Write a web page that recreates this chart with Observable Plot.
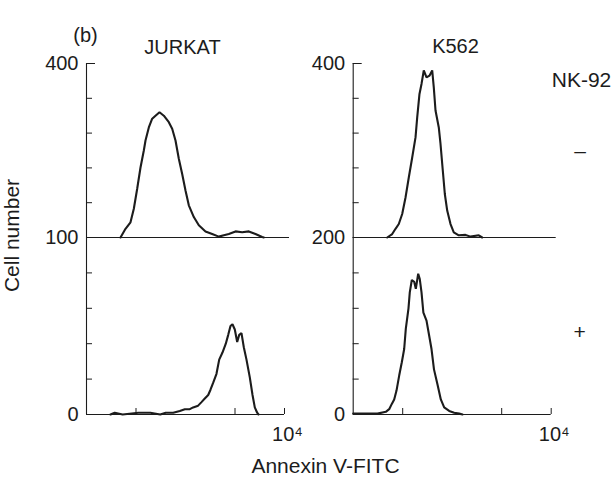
<!DOCTYPE html>
<html>
<head>
<meta charset="utf-8">
<script src="https://cdn.jsdelivr.net/npm/d3@7"></script>
<script src="https://cdn.jsdelivr.net/npm/@observablehq/plot@0.6"></script>
<style>
  body { margin: 0; background: #fff; }
  #chart { position: relative; width: 615px; height: 478px; overflow: hidden; background: #fff; }
  #chart svg { position: absolute; left: 0; top: 0; }
</style>
</head>
<body>
<div id="chart"></div>
<script>
// ---- Data (x = log10 Annexin V-FITC fluorescence, y = cell number) ----
const cellLines = ["JURKAT", "K562"];
const nk92Conditions = ["–", "+"];

const jurkatMinusLogFL = [0.687,0.788,0.889,0.956,1.024,1.091,1.158,1.192,1.259,1.327,1.394,1.475,1.562,1.663,1.731,1.798,1.865,1.933,2.000,2.067,2.168,2.269,2.404,2.539,2.673,2.774,2.875,3.010,3.145,3.279,3.414,3.549,3.582];
const jurkatMinusCount = [0,20,35,66,112,161,200,223,253,273,280,288,280,265,250,223,181,146,108,74,47,28,14,8,2,5,8,14,12,14,8,1,0];

const jurkatPlusLogFL = [0.485,0.57,0.73,1.05,1.29,1.49,1.60,1.752,1.885,1.986,2.087,2.154,2.255,2.323,2.390,2.459,2.505,2.560,2.626,2.681,2.747,2.814,2.863,2.909,2.949,2.996,3.044,3.085,3.131,3.178,3.232,3.299,3.354,3.400,3.448,3.475];
const jurkatPlusCount = [0,1,0,1,1,0,1,1,2,3,3,4,5,7,9,11,14,18,23,31,35,40,45,50,51,48,41,45,46,38,31,21,11,4,1,0];

const k562MinusLogFL = [0.687,0.788,0.855,0.921,0.990,1.057,1.123,1.192,1.259,1.293,1.339,1.380,1.426,1.481,1.541,1.596,1.628,1.663,1.729,1.764,1.810,1.851,1.899,1.966,2.032,2.133,2.269,2.370,2.537,2.606];
const k562MinusCount = [0,8,20,31,54,92,138,184,230,276,330,353,384,368,372,384,345,292,253,215,154,100,62,31,12,5,6,2,5,0];

const k562PlusLogFL = [0,0.491,0.659,0.727,0.780,0.828,0.875,0.929,0.982,1.030,1.063,1.117,1.143,1.184,1.232,1.265,1.313,1.345,1.380,1.418,1.481,1.535,1.582,1.632,1.703,1.770,1.838,1.939,2.040,2.141,2.21];
const k562PlusCount = [1,1,3,6,12,17,27,44,59,74,97,120,138,152,150,142,159,153,138,115,106,89,74,51,34,17,8,4,2,1,0];

// axis extents and ticks
const xDomain = [1, 1e4];
const xTicks = [10, 1000, 10000];
const xTickLabels = ["10⁴"];
const topYMax = 400;
const topMinorTicks = [80, 160, 240, 320];
const jurkatPlusYMax = 100;
const jurkatPlusMinorTicks = [20, 40, 60, 80];
const k562PlusYMax = 200;
const k562PlusMinorTicks = [40, 80, 120, 160];

const FONT = "'Liberation Sans', Arial, Helvetica, sans-serif";
const INK = "#1c1c1c";

function toSeries(logs, counts) {
  return logs.map((v, i) => ({fl: Math.pow(10, v), count: counts[i]}));
}

function panel({series, yMax, minorTicks, yLabels, frame, bottom, texts}) {
  const marks = [
    Plot.ruleX([xDomain[0]], {y1: 0, y2: yMax, stroke: INK, strokeWidth: 1.1}),
    Plot.ruleY([0], {x1: xDomain[0], x2: xDomain[1], insetRight: bottom ? 0 : -5, stroke: INK, strokeWidth: 1.1}),
    Plot.ruleY(minorTicks, {y: d => d, x1: xDomain[0], x2: xDomain[0], insetRight: -6, stroke: INK, strokeWidth: 1}),
    Plot.ruleY([yMax], {x1: xDomain[0], x2: xDomain[0], insetRight: -9, stroke: INK, strokeWidth: 1}),
    Plot.text(yLabels, {x: xDomain[0], y: d => +d, text: d => String(d), textAnchor: "end", lineAnchor: "middle", dx: -8, fontSize: 20, fill: INK}),
    Plot.line(series, {x: "fl", y: "count", stroke: INK, strokeWidth: 2.1, strokeLinejoin: "miter"})
  ];
  if (bottom) {
    marks.push(Plot.ruleX(xTicks, {x: d => d, y1: 0, y2: 0, insetTop: -6, stroke: INK, strokeWidth: 1}));
    marks.push(Plot.text(xTickLabels, {x: xDomain[1], y: 0, text: d => d, dy: 20, dx: 3, fontSize: 20, lineAnchor: "middle", textAnchor: "middle", fill: INK}));
  }
  for (const t of texts) {
    marks.push(Plot.text([t.text], {frameAnchor: "top-left", text: d => d, textAnchor: "middle", lineAnchor: "middle", dx: t.dx, dy: t.dy, fontSize: t.size || 20, rotate: t.rotate || 0, fill: INK}));
  }
  return Plot.plot({
    width: 615, height: 478,
    marginLeft: frame[0], marginRight: 615 - frame[1],
    marginTop: frame[2], marginBottom: 478 - frame[3],
    x: {type: "log", domain: xDomain, axis: null},
    y: {domain: [0, yMax], axis: null},
    style: {background: "transparent", fontFamily: FONT, overflow: "visible", color: INK},
    marks
  });
}

const chart = document.getElementById("chart");

chart.append(panel({
  series: toSeries(jurkatMinusLogFL, jurkatMinusCount),
  yMax: topYMax, minorTicks: topMinorTicks, yLabels: [topYMax],
  frame: [86, 284, 63, 237], bottom: false,
  texts: [
    {text: "(b)", dx: -1, dy: -28},
    {text: cellLines[0], dx: 96, dy: -16}
  ]
}));

chart.append(panel({
  series: toSeries(k562MinusLogFL, k562MinusCount),
  yMax: topYMax, minorTicks: topMinorTicks, yLabels: [topYMax],
  frame: [352.7, 550.7, 63, 237], bottom: false,
  texts: [
    {text: cellLines[1], dx: 102.3, dy: -16.5},
    {text: "NK-92", dx: 228.3, dy: 17, size: 21},
    {text: nk92Conditions[0], dx: 226.8, dy: 88, size: 21}
  ]
}));

chart.append(panel({
  series: toSeries(jurkatPlusLogFL, jurkatPlusCount),
  yMax: jurkatPlusYMax, minorTicks: jurkatPlusMinorTicks, yLabels: [0, jurkatPlusYMax],
  frame: [86, 284, 237, 414], bottom: true,
  texts: [
    {text: "Cell number", dx: -74, dy: -2, size: 21, rotate: -90},
    {text: "Annexin V-FITC", dx: 239, dy: 228.5, size: 21}
  ]
}));

chart.append(panel({
  series: toSeries(k562PlusLogFL, k562PlusCount),
  yMax: k562PlusYMax, minorTicks: k562PlusMinorTicks, yLabels: [0, k562PlusYMax],
  frame: [352.7, 550.7, 237, 414], bottom: true,
  texts: [
    {text: nk92Conditions[1], dx: 226.3, dy: 95, size: 21}
  ]
}));
</script>
</body>
</html>
